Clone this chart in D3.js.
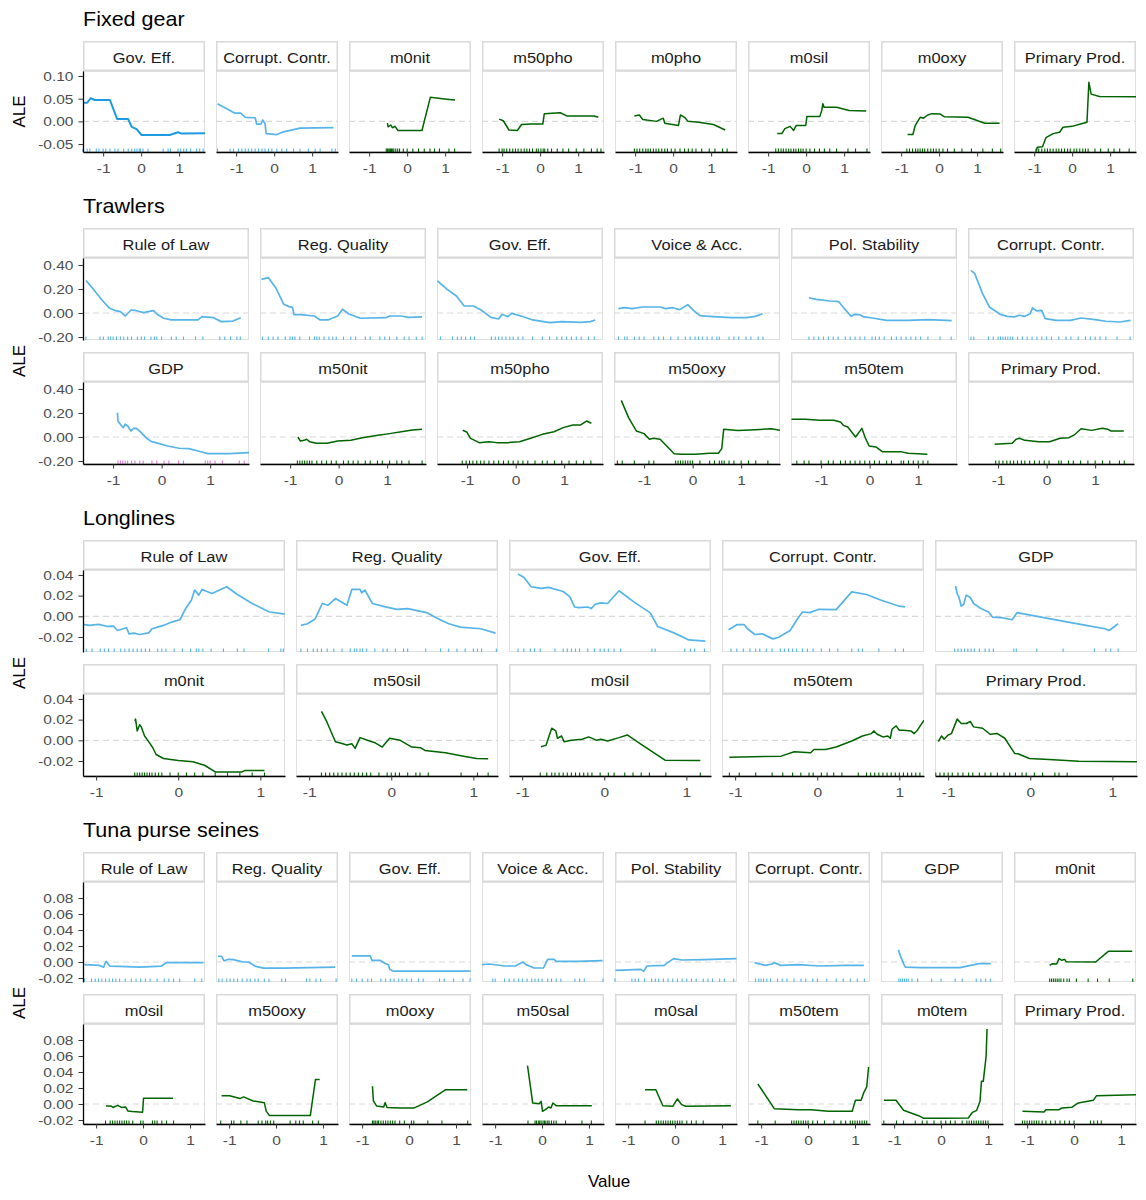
<!DOCTYPE html>
<html>
<head>
<meta charset="utf-8">
<script src="https://cdn.jsdelivr.net/npm/d3@7"></script>
<style>
  body { margin: 0; background: #fff; }
  text { font-family: "Liberation Sans", Arial, sans-serif; }
</style>
</head>
<body>
<svg id="chart" width="1146" height="1200"></svg>
<script>
// ---- Fixed gear ----
var fixedNames = ["Gov. Eff.", "Corrupt. Contr.", "m0nit", "m50pho", "m0pho", "m0sil", "m0oxy", "Primary Prod."];
var fixedTypes = ["gov2", "gov", "env", "env", "env", "env", "env", "env"];
var fixedCurves = [
  [[-1.53,0.041],[-1.42,0.041],[-1.33,0.051],[-1.22,0.047],[-1.09,0.047],[-0.82,0.047],[-0.63,0.005],[-0.34,0.005],[-0.25,-0.012],[-0.12,-0.017],[0.01,-0.03],[0.75,-0.03],[0.97,-0.024],[1.06,-0.027],[1.68,-0.026]],
  [[-1.49,0.039],[-1.25,0.028],[-1.03,0.018],[-0.88,0.018],[-0.76,0.009],[-0.5,0.008],[-0.46,-0.006],[-0.35,-0.006],[-0.3,0.003],[-0.24,-0.005],[-0.21,-0.027],[0.07,-0.029],[0.25,-0.023],[0.68,-0.015],[1.56,-0.014]],
  [[-0.52,-0.004],[-0.5,-0.012],[-0.43,-0.008],[-0.39,-0.014],[-0.32,-0.011],[-0.24,-0.02],[0.39,-0.02],[0.61,0.053],[1.04,0.049],[1.26,0.047]],
  [[-1.08,0.005],[-0.97,0.0014],[-0.82,-0.019],[-0.6,-0.02],[-0.49,-0.007],[-0.24,-0.006],[0.07,-0.006],[0.11,0.017],[0.53,0.019],[0.7,0.012],[1.42,0.012],[1.53,0.009]],
  [[-1.02,0.012],[-0.89,0.014],[-0.8,0.004],[-0.44,0],[-0.26,0.007],[-0.22,-0.004],[0.14,-0.009],[0.19,0.014],[0.3,0.009],[0.39,0],[0.67,-0.002],[1.06,-0.007],[1.37,-0.019]],
  [[-0.76,-0.027],[-0.64,-0.027],[-0.56,-0.016],[-0.42,-0.011],[-0.33,-0.02],[-0.26,-0.009],[-0.01,-0.009],[0.02,0.011],[0.36,0.011],[0.41,0.024],[0.44,0.039],[0.47,0.031],[0.8,0.031],[1.13,0.024],[1.58,0.023]],
  [[-0.83,-0.029],[-0.69,-0.029],[-0.63,-0.009],[-0.58,-0.002],[-0.5,0.009],[-0.41,0.007],[-0.3,0.014],[-0.19,0.017],[0.03,0.016],[0.14,0.01],[0.76,0.009],[1.2,-0.004],[1.59,-0.004]],
  [[-0.94,-0.066],[-0.92,-0.057],[-0.78,-0.056],[-0.69,-0.036],[-0.5,-0.027],[-0.33,-0.024],[-0.24,-0.013],[0,-0.011],[0.22,-0.006],[0.39,-0.002],[0.44,0.086],[0.5,0.06],[0.72,0.055],[1.68,0.054]]
];
var fixedRugs = [
  [-1.53,-1.42,-1.35,-1.18,-1.11,-1.0,-0.93,-0.82,-0.69,-0.61,-0.46,-0.34,-0.25,-0.17,-0.11,-0.05,-0.02,0.05,0.18,0.58,0.71,0.77,0.97,1.04,1.12,1.19,1.3,1.46,1.54,1.63],
  [-1.49,-1.16,-1.07,-0.94,-0.85,-0.76,-0.68,-0.59,-0.5,-0.41,-0.32,-0.24,-0.15,-0.06,0.07,0.2,0.33,0.51,0.68,0.9,1.08,1.21,1.52,1.61],
  [-0.55,-0.52,-0.5,-0.47,-0.44,-0.41,-0.38,-0.35,-0.3,-0.25,-0.2,-0.1,0.0,0.15,0.3,0.45,0.6,0.72,0.85,1.1,1.25],
  [-1.08,-1.0,-0.95,-0.88,-0.8,-0.72,-0.65,-0.58,-0.5,-0.42,-0.35,-0.28,-0.2,-0.1,-0.05,0.02,0.08,0.12,0.2,0.3,0.45,0.6,0.75,0.95,1.15,1.35,1.5,1.6],
  [-1.02,-0.95,-0.88,-0.8,-0.72,-0.66,-0.6,-0.52,-0.45,-0.38,-0.3,-0.22,-0.15,-0.05,0.05,0.18,0.3,0.4,0.5,0.6,0.75,0.95,1.1,1.3,1.42],
  [-0.8,-0.73,-0.66,-0.6,-0.53,-0.46,-0.4,-0.33,-0.27,-0.2,-0.14,-0.08,0.0,0.1,0.22,0.35,0.48,0.62,0.8,1.1,1.3,1.6],
  [-0.85,-0.78,-0.7,-0.62,-0.56,-0.5,-0.44,-0.38,-0.3,-0.22,-0.15,-0.08,0.0,0.1,0.22,0.4,0.6,0.85,1.15,1.4,1.62],
  [-0.95,-0.88,-0.8,-0.72,-0.65,-0.58,-0.5,-0.42,-0.35,-0.28,-0.2,-0.12,-0.05,0.05,0.12,0.2,0.28,0.35,0.42,0.6,0.75,0.95,1.1,1.25,1.5]
];
var fixedYTicks = [-0.05, 0, 0.05, 0.10];

// ---- Trawlers ----
var trawlNames = ["Rule of Law", "Reg. Quality", "Gov. Eff.", "Voice & Acc.", "Pol. Stability", "Corrupt. Contr.",
                  "GDP", "m50nit", "m50pho", "m50oxy", "m50tem", "Primary Prod."];
var trawlTypes = ["gov", "gov", "gov", "gov", "gov", "gov", "gdp", "env", "env", "env", "env", "env"];
var trawlCurves = [
  [[-1.56,0.27],[-1.39,0.19],[-1.23,0.108],[-1.07,0.039],[-0.95,0.019],[-0.85,0.011],[-0.75,-0.025],[-0.63,0.025],[-0.52,0.019],[-0.37,0.003],[-0.28,0.011],[-0.16,0.019],[-0.1,-0.008],[0.04,-0.044],[0.2,-0.058],[0.75,-0.058],[0.83,-0.031],[1.07,-0.039],[1.23,-0.072],[1.47,-0.067],[1.63,-0.039]],
  [[-1.59,0.28],[-1.45,0.295],[-1.29,0.206],[-1.13,0.072],[-1.02,0.053],[-0.95,0.047],[-0.92,-0.014],[-0.78,-0.014],[-0.5,-0.025],[-0.38,-0.058],[-0.22,-0.058],[-0.02,-0.025],[0.08,0.031],[0.21,-0.008],[0.45,-0.044],[0.97,-0.039],[1.05,-0.025],[1.29,-0.025],[1.44,-0.036],[1.72,-0.033]],
  [[-1.61,0.267],[-1.42,0.2],[-1.22,0.142],[-1.06,0.058],[-0.87,0.058],[-0.71,0.025],[-0.51,-0.036],[-0.35,-0.05],[-0.28,-0.011],[-0.16,-0.031],[-0.08,-0.003],[0.16,-0.031],[0.35,-0.058],[0.71,-0.081],[0.94,-0.072],[1.34,-0.078],[1.54,-0.072],[1.64,-0.058]],
  [[-1.53,0.036],[-1.4,0.044],[-1.25,0.036],[-1.03,0.05],[-0.67,0.05],[-0.56,0.036],[-0.41,0.044],[-0.27,0.028],[-0.1,0.069],[0,0.028],[0.15,-0.022],[0.35,-0.028],[0.79,-0.039],[1.11,-0.039],[1.29,-0.028],[1.44,-0.006]],
  [[-1.25,0.127],[-1.1,0.114],[-0.81,0.1],[-0.67,0.097],[-0.63,0.091],[-0.52,0.036],[-0.38,-0.028],[-0.31,-0.011],[-0.2,-0.014],[-0.12,-0.033],[0.06,-0.042],[0.35,-0.061],[0.79,-0.061],[1.22,-0.055],[1.69,-0.064]],
  [[-1.56,0.355],[-1.48,0.327],[-1.32,0.161],[-1.18,0.05],[-0.96,-0.011],[-0.81,-0.028],[-0.67,-0.033],[-0.56,-0.019],[-0.45,-0.028],[-0.34,-0.006],[-0.29,0.042],[-0.2,0.017],[-0.1,0.022],[-0.03,-0.047],[0.2,-0.061],[0.49,-0.061],[0.71,-0.042],[1.0,-0.055],[1.22,-0.069],[1.51,-0.075],[1.73,-0.061]],
  [[-0.91,0.203],[-0.9,0.133],[-0.85,0.106],[-0.79,0.078],[-0.75,0.106],[-0.7,0.092],[-0.63,0.05],[-0.58,0.072],[-0.52,0.072],[-0.42,0.036],[-0.32,-0.006],[-0.21,-0.039],[-0.12,-0.047],[0.12,-0.075],[0.36,-0.094],[0.56,-0.097],[0.75,-0.117],[0.95,-0.139],[1.39,-0.139],[1.8,-0.131]],
  [[-0.84,0],[-0.79,-0.033],[-0.71,-0.028],[-0.66,-0.019],[-0.6,-0.039],[-0.46,-0.053],[-0.24,-0.053],[-0.02,-0.033],[0.25,-0.028],[0.49,-0.006],[0.81,0.014],[1.05,0.028],[1.29,0.044],[1.52,0.058],[1.72,0.064]],
  [[-1.09,0.056],[-1.01,0.042],[-0.93,-0.011],[-0.75,-0.047],[-0.55,-0.039],[-0.39,-0.047],[-0.16,-0.047],[0.08,-0.039],[0.31,-0.011],[0.55,0.022],[0.79,0.044],[0.98,0.078],[1.18,0.1],[1.34,0.1],[1.46,0.133],[1.56,0.114]],
  [[-1.47,0.305],[-1.32,0.161],[-1.16,0.05],[-1.0,0.028],[-0.89,-0.019],[-0.81,-0.011],[-0.67,-0.019],[-0.38,-0.139],[-0.23,-0.144],[0.06,-0.144],[0.35,-0.136],[0.53,-0.136],[0.6,-0.097],[0.64,0.064],[0.93,0.055],[1.29,0.061],[1.62,0.069],[1.8,0.055]],
  [[-1.61,0.147],[-1.32,0.147],[-1.03,0.139],[-0.74,0.139],[-0.6,0.125],[-0.54,0.097],[-0.45,0.083],[-0.29,0],[-0.16,0.072],[-0.09,-0.006],[-0.01,-0.075],[0.13,-0.083],[0.26,-0.122],[0.64,-0.122],[0.79,-0.136],[1.19,-0.144]],
  [[-1.07,-0.061],[-0.71,-0.053],[-0.63,-0.019],[-0.56,-0.011],[-0.45,-0.028],[-0.16,-0.039],[0.06,-0.039],[0.28,-0.011],[0.46,-0.006],[0.57,0.017],[0.71,0.069],[0.93,0.055],[1.15,0.072],[1.26,0.064],[1.33,0.05],[1.59,0.05]]
];
var trawlRugs = [
  [-1.56,-1.27,-1.2,-1.1,-1.05,-1.0,-0.93,-0.85,-0.78,-0.7,-0.62,-0.5,-0.42,-0.35,-0.22,-0.15,-0.1,0.0,0.2,0.3,0.45,0.7,0.85,1.2,1.3,1.42,1.55,1.62],
  [-1.57,-1.45,-1.35,-1.25,-1.1,-1.0,-0.95,-0.9,-0.8,-0.6,-0.5,-0.45,-0.4,-0.3,-0.2,-0.12,-0.05,0.1,0.25,0.35,0.55,0.65,0.85,0.95,1.05,1.2,1.35,1.45,1.6,1.72],
  [-1.55,-1.3,-1.2,-1.12,-1.03,-0.93,-0.85,-0.5,-0.42,-0.35,-0.28,-0.2,-0.12,-0.05,0.05,0.15,0.35,0.55,0.7,0.85,0.95,1.05,1.15,1.25,1.35,1.5,1.62],
  [-1.53,-1.4,-1.35,-1.2,-1.1,-1.0,-0.8,-0.7,-0.6,-0.45,-0.3,-0.15,-0.05,0.05,0.12,0.2,0.3,0.4,0.5,0.55,0.75,0.85,0.95,1.1,1.2,1.35,1.45],
  [-1.25,-1.15,-1.05,-0.95,-0.85,-0.75,-0.65,-0.5,-0.4,-0.3,-0.2,-0.1,0.05,0.12,0.2,0.3,0.45,0.55,0.65,0.75,0.85,0.95,1.05,1.2,1.45,1.68],
  [-1.56,-1.5,-1.2,-1.1,-1.0,-0.95,-0.9,-0.85,-0.8,-0.75,-0.7,-0.6,-0.5,-0.4,-0.3,-0.2,-0.1,0.0,0.1,0.25,0.4,0.5,0.65,0.8,0.9,1.0,1.1,1.22,1.45,1.72],
  [-0.9,-0.85,-0.8,-0.75,-0.7,-0.62,-0.55,-0.45,-0.38,-0.2,-0.1,0.05,0.15,0.35,0.45,0.9,0.95,1.0,1.1,1.25,1.6,1.7],
  [-0.85,-0.8,-0.75,-0.7,-0.65,-0.6,-0.55,-0.45,-0.35,-0.25,-0.15,-0.05,0.1,0.2,0.3,0.4,0.55,0.65,0.8,0.9,1.05,1.2,1.3,1.45,1.72],
  [-1.1,-1.02,-0.95,-0.88,-0.8,-0.72,-0.65,-0.55,-0.45,-0.35,-0.25,-0.15,-0.05,0.05,0.15,0.25,0.4,0.55,0.65,0.8,0.95,1.1,1.25,1.4,1.55],
  [-1.55,-1.45,-1.2,-0.9,-0.8,-0.35,-0.3,-0.25,-0.2,-0.15,-0.1,-0.05,0.0,0.15,0.35,0.45,0.55,0.6,0.65,0.75,0.85,1.0,1.15,1.3,1.55],
  [-1.5,-1.35,-1.25,-1.0,-0.85,-0.75,-0.6,-0.5,-0.4,-0.3,-0.2,-0.1,0.0,0.1,0.2,0.35,0.45,0.65,0.7,0.8,0.9,1.0,1.1,1.2],
  [-1.05,-0.98,-0.9,-0.82,-0.75,-0.68,-0.6,-0.52,-0.45,-0.35,-0.25,-0.15,-0.05,0.05,0.25,0.3,0.45,0.55,0.7,0.85,1.0,1.15,1.3,1.5,1.6]
];
var trawlYTicks = [-0.2, 0, 0.2, 0.4];

// ---- Longlines ----
var longNames = ["Rule of Law", "Reg. Quality", "Gov. Eff.", "Corrupt. Contr.", "GDP",
                 "m0nit", "m50sil", "m0sil", "m50tem", "Primary Prod."];
var longTypes = ["gov", "gov", "gov", "gov", "gov", "env", "env", "env", "env", "env"];
var longCurves = [
  [[-1.16,-0.0078],[-1.08,-0.0088],[-0.97,-0.0078],[-0.86,-0.0098],[-0.79,-0.0094],[-0.74,-0.0137],[-0.63,-0.011],[-0.6,-0.0169],[-0.54,-0.0163],[-0.47,-0.0176],[-0.36,-0.016],[-0.32,-0.012],[-0.25,-0.0104],[-0.18,-0.0088],[-0.11,-0.0065],[-0.05,-0.0049],[0.02,-0.0033],[0.09,0.0075],[0.16,0.0156],[0.2,0.0254],[0.25,0.0205],[0.29,0.026],[0.41,0.022],[0.59,0.0286],[0.72,0.0211],[0.9,0.0124],[1.11,0.0042],[1.26,0.0026],[1.3,0.002]],
  [[-1.1,-0.0088],[-1.02,-0.0072],[-0.93,-0.0029],[-0.84,0.0124],[-0.77,0.0107],[-0.68,0.0172],[-0.54,0.0107],[-0.48,0.026],[-0.38,0.026],[-0.36,0.0228],[-0.32,0.0254],[-0.23,0.0124],[-0.07,0.0091],[0.07,0.0068],[0.2,0.0075],[0.43,0.0036],[0.57,-0.0023],[0.7,-0.0072],[0.84,-0.0104],[1.09,-0.012],[1.27,-0.0163]],
  [[-1.05,0.041],[-0.98,0.0378],[-0.89,0.0286],[-0.84,0.028],[-0.77,0.027],[-0.68,0.028],[-0.5,0.024],[-0.42,0.019],[-0.36,0.009],[-0.31,0.0085],[-0.2,0.009],[-0.16,0.0075],[-0.11,0.0117],[-0.04,0.013],[0.04,0.0124],[0.18,0.0247],[0.36,0.014],[0.56,0.0033],[0.65,-0.0098],[0.85,-0.016],[1.03,-0.0228],[1.23,-0.024]],
  [[-1.08,-0.013],[-0.98,-0.0081],[-0.89,-0.0081],[-0.85,-0.012],[-0.76,-0.0176],[-0.67,-0.0169],[-0.54,-0.0218],[-0.47,-0.0202],[-0.33,-0.0137],[-0.24,-0.0023],[-0.18,0.0042],[-0.09,0.0036],[0.02,0.0068],[0.23,0.0065],[0.42,0.0237],[0.6,0.0211],[0.78,0.0156],[1.0,0.0098],[1.07,0.0091]],
  [[-0.91,0.0293],[-0.89,0.022],[-0.87,0.0189],[-0.84,0.0098],[-0.81,0.0117],[-0.78,0.0205],[-0.73,0.0182],[-0.69,0.0124],[-0.64,0.0098],[-0.6,0.0075],[-0.51,0.0042],[-0.46,-0.0007],[-0.35,-0.0013],[-0.22,-0.0033],[-0.16,0.0036],[0.23,-0.0023],[0.68,-0.0088],[0.91,-0.012],[0.96,-0.0137],[1.07,-0.0072]],
  [[-0.53,0.0189],[-0.52,0.0205],[-0.5,0.0091],[-0.47,0.015],[-0.45,0.013],[-0.41,0.0042],[-0.36,-0.0013],[-0.31,-0.0072],[-0.27,-0.0137],[-0.18,-0.0176],[0,-0.0195],[0.18,-0.0208],[0.32,-0.0241],[0.45,-0.0306],[0.77,-0.0306],[0.81,-0.0293],[1.05,-0.0293]],
  [[-0.85,0.028],[-0.79,0.0189],[-0.72,0.0059],[-0.68,-0.0013],[-0.61,-0.0029],[-0.54,-0.0046],[-0.48,-0.0033],[-0.44,-0.0078],[-0.38,0.0026],[-0.29,0],[-0.2,-0.0023],[-0.11,-0.0065],[-0.02,0.002],[0.11,0],[0.25,-0.0065],[0.36,-0.0072],[0.41,-0.0098],[0.66,-0.012],[0.88,-0.0153],[1.04,-0.0176],[1.18,-0.0179]],
  [[-0.77,-0.0062],[-0.71,-0.0049],[-0.64,0.0117],[-0.59,0.0091],[-0.57,0.002],[-0.52,0.0042],[-0.49,-0.0013],[-0.4,0],[-0.27,0.001],[-0.19,0.0033],[-0.09,0],[-0.04,0.001],[0.04,-0.0007],[0.18,0.0026],[0.28,0.0052],[0.45,-0.0039],[0.74,-0.0192],[1.17,-0.0195]],
  [[-1.07,-0.0163],[-0.44,-0.0153],[-0.28,-0.0111],[-0.08,-0.012],[-0.04,-0.0088],[0.1,-0.0088],[0.23,-0.0065],[0.42,-0.0007],[0.55,0.0042],[0.66,0.0065],[0.69,0.0091],[0.73,0.0059],[0.8,0.0033],[0.86,0.0042],[0.89,0.002],[0.91,0.0107],[0.96,0.014],[1.0,0.0098],[1.05,0.0098],[1.14,0.0091],[1.18,0.0065],[1.22,0.0098],[1.3,0.0195]],
  [[-1.12,-0.0013],[-1.08,0.0042],[-1.05,0.001],[-1.0,0.0052],[-0.96,0.0065],[-0.89,0.0205],[-0.84,0.0163],[-0.78,0.0163],[-0.73,0.0182],[-0.69,0.013],[-0.58,0.0117],[-0.49,0.0059],[-0.4,0.0065],[-0.31,0.002],[-0.19,-0.0127],[-0.15,-0.013],[-0.01,-0.0176],[0.23,-0.0185],[0.59,-0.0202],[1.3,-0.0208]]
];
var longRugs = [
  [-1.12,-1.05,-0.95,-0.9,-0.85,-0.78,-0.7,-0.65,-0.6,-0.55,-0.5,-0.45,-0.4,-0.35,-0.25,-0.2,-0.15,-0.05,0.05,0.15,0.22,0.25,0.3,0.4,0.55,0.72,0.8,1.1,1.25,1.28],
  [-1.1,-1.02,-0.95,-0.9,-0.85,-0.78,-0.7,-0.6,-0.5,-0.45,-0.42,-0.38,-0.35,-0.3,-0.2,-0.1,-0.05,0.05,0.15,0.2,0.42,0.6,0.7,0.8,0.9,1.0,1.05,1.1,1.28],
  [-1.05,-0.98,-0.9,-0.85,-0.78,-0.6,-0.5,-0.45,-0.4,-0.35,-0.3,-0.2,-0.12,-0.05,0.0,0.05,0.12,0.2,0.58,0.62,0.98,1.05,1.1,1.22],
  [-1.05,-0.98,-0.9,-0.82,-0.75,-0.7,-0.62,-0.55,-0.45,-0.4,-0.35,-0.3,-0.25,-0.18,-0.12,-0.05,0.05,0.15,0.25,0.42,0.5,0.55,0.75,0.95,1.05],
  [-0.92,-0.88,-0.84,-0.8,-0.76,-0.72,-0.68,-0.62,-0.55,-0.5,-0.45,-0.2,-0.17,0.08,0.4,0.78,0.92,0.98,1.07],
  [-0.53,-0.5,-0.47,-0.44,-0.41,-0.38,-0.35,-0.32,-0.28,-0.24,-0.2,-0.1,0.0,0.1,0.2,0.3,0.45,0.6,0.75,0.9,1.05],
  [-0.85,-0.8,-0.75,-0.7,-0.65,-0.6,-0.55,-0.5,-0.45,-0.4,-0.35,-0.3,-0.25,-0.15,-0.05,0.0,0.05,0.1,0.2,0.3,0.35,0.45,0.85,1.05,1.18],
  [-0.78,-0.7,-0.64,-0.6,-0.55,-0.5,-0.45,-0.4,-0.35,-0.3,-0.25,-0.2,-0.15,-0.05,0.05,0.12,0.25,0.35,0.45,0.55,0.75,1.17],
  [-1.07,-0.95,-0.75,-0.55,-0.42,-0.3,-0.2,-0.1,-0.05,0.05,0.12,0.2,0.3,0.5,0.6,0.65,0.7,0.75,0.8,0.85,0.9,0.95,1.0,1.05,1.1,1.15,1.2,1.25],
  [-1.15,-1.1,-1.05,-1.0,-0.95,-0.88,-0.82,-0.75,-0.7,-0.62,-0.55,-0.48,-0.4,-0.32,-0.25,-0.18,-0.1,-0.05,0.05,0.15,0.3,0.35,0.45]
];
var longYTicks = [-0.02, 0, 0.02, 0.04];

// ---- Tuna purse seines ----
var tunaNames = ["Rule of Law", "Reg. Quality", "Gov. Eff.", "Voice & Acc.", "Pol. Stability", "Corrupt. Contr.", "GDP", "m0nit",
                 "m0sil", "m50oxy", "m0oxy", "m50sal", "m0sal", "m50tem", "m0tem", "Primary Prod."];
var tunaTypes = ["gov", "gov", "gov", "gov", "gov", "gov", "gov", "env", "env", "env", "env", "env", "env", "env", "env", "env"];
var tunaCurves = [
  [[-1.25,-0.0034],[-0.93,-0.0043],[-0.84,-0.0064],[-0.79,0.0009],[-0.71,-0.0051],[-0.5,-0.0055],[-0.07,-0.0064],[0.39,-0.0051],[0.5,-0.0009],[0.79,-0.0009],[1.29,-0.0009]],
  [[-1.24,0.0072],[-1.16,0.0072],[-1.11,0.0013],[-1.02,0.0034],[-0.91,0.003],[-0.7,0],[-0.59,0],[-0.45,-0.0051],[-0.27,-0.0077],[0.16,-0.0077],[1.26,-0.0064]],
  [[-1.22,0.0077],[-0.83,0.0077],[-0.79,0.0021],[-0.61,0.0021],[-0.54,-0.0009],[-0.44,-0.0034],[-0.41,-0.0094],[-0.33,-0.0115],[0.53,-0.0115],[1.31,-0.0115]],
  [[-1.28,-0.0033],[-1.12,-0.0025],[-0.8,-0.005],[-0.57,-0.005],[-0.41,0],[-0.34,-0.0033],[-0.17,-0.0075],[0.03,-0.0075],[0.12,0.0033],[0.26,0.0033],[0.3,0.0008],[0.76,0.0008],[1.29,0.0017]],
  [[-1.27,-0.0104],[-0.73,-0.0092],[-0.67,-0.0117],[-0.6,-0.005],[-0.23,-0.0042],[-0.16,-0.0008],[-0.03,0.0042],[0.14,0.0025],[0.6,0.0029],[1.31,0.0042]],
  [[-1.14,-0.0008],[-0.91,-0.0042],[-0.77,-0.0025],[-0.72,-0.0008],[-0.58,-0.0042],[-0.21,-0.0033],[0.25,-0.005],[0.81,-0.0042],[1.19,-0.0042]],
  [[-0.91,0.0154],[-0.87,0.0083],[-0.8,-0.0021],[-0.76,-0.0063],[-0.43,-0.0071],[0.4,-0.0071],[0.63,-0.0042],[0.81,-0.0021],[1.06,-0.0021]],
  [[-0.52,-0.0042],[-0.46,-0.0021],[-0.37,-0.0025],[-0.32,0.0042],[-0.26,0.0021],[-0.2,0.0033],[-0.17,0.0004],[0.46,0],[0.73,0.0133],[1.24,0.0133]],
  [[-0.79,-0.0026],[-0.68,-0.0026],[-0.64,-0.0043],[-0.54,-0.0017],[-0.46,-0.0043],[-0.37,-0.0038],[-0.32,-0.0089],[-0.23,-0.0094],[-0.01,-0.0102],[0.01,0.0072],[0.64,0.0072]],
  [[-1.16,0.0102],[-0.99,0.0102],[-0.77,0.0068],[-0.69,0.0089],[-0.49,0.0038],[-0.25,0.0017],[-0.21,-0.0089],[-0.14,-0.0145],[0.73,-0.0145],[0.84,0.0307],[0.93,0.0307]],
  [[-0.78,0.0222],[-0.76,0.0038],[-0.69,-0.0026],[-0.54,-0.0038],[-0.51,0.0017],[-0.47,-0.0043],[-0.19,-0.0051],[0.1,-0.0051],[0.39,0.0026],[0.78,0.0179],[1.24,0.0179]],
  [[-0.31,0.048],[-0.2,0.0013],[-0.06,0.0004],[-0.02,0.0033],[0.01,-0.0092],[0.07,-0.0071],[0.14,-0.0038],[0.19,-0.005],[0.23,0.0013],[0.3,-0.0021],[1.06,-0.0021]],
  [[-0.64,0.0179],[-0.41,0.0179],[-0.26,-0.0021],[-0.05,-0.0029],[0.05,0.0063],[0.14,-0.0008],[0.23,-0.0029],[1.19,-0.0021]],
  [[-1.07,0.025],[-0.72,-0.0058],[-0.21,-0.0071],[0.06,-0.0071],[0.44,-0.0092],[0.94,-0.0092],[1.01,0.0046],[1.13,0.0046],[1.19,0.0146],[1.25,0.0213],[1.29,0.0463]],
  [[-1.22,0.0046],[-0.96,0.0046],[-0.8,-0.0079],[-0.48,-0.0146],[-0.37,-0.0179],[0.07,-0.0179],[0.58,-0.0175],[0.67,-0.0104],[0.76,-0.0079],[0.83,0.0033],[0.86,0.0283],[0.9,0.0283],[0.96,0.0596],[0.98,0.0938]],
  [[-1.1,-0.0092],[-0.64,-0.01],[-0.6,-0.0071],[-0.32,-0.0071],[-0.26,-0.005],[-0.05,-0.0042],[0.09,0.0013],[0.41,0.0046],[0.48,0.0104],[1.32,0.0117]]
];
var tunaRugs = [
  [-1.25,-1.1,-1.02,-0.95,-0.88,-0.8,-0.72,-0.65,-0.58,-0.5,-0.38,-0.25,-0.15,-0.05,0.05,0.15,0.3,0.45,0.55,0.65,0.78,1.1,1.25],
  [-1.22,-1.15,-1.05,-0.98,-0.9,-0.82,-0.72,-0.62,-0.55,-0.45,-0.38,-0.25,-0.15,0.12,0.2,0.65,0.72,0.85,0.95,1.28],
  [-1.22,-1.12,-1.0,-0.88,-0.8,-0.6,-0.5,-0.4,-0.32,-0.22,-0.15,-0.05,0.05,0.2,0.3,0.65,0.75,0.95,1.15,1.3],
  [-1.05,-1.0,-0.8,-0.7,-0.6,-0.5,-0.42,-0.32,-0.22,-0.15,-0.08,0.0,0.12,0.2,0.3,0.4,0.7,0.8,0.9,1.3],
  [-1.28,-0.92,-0.85,-0.78,-0.65,-0.5,-0.42,-0.35,-0.25,-0.15,-0.05,0.05,0.15,0.25,0.35,0.45,0.6,0.7,0.8,0.95,1.05,1.25],
  [-1.12,-1.05,-1.0,-0.95,-0.88,-0.8,-0.65,-0.55,-0.45,-0.3,-0.15,-0.05,0.1,0.2,0.4,0.6,0.75,0.9,1.05,1.2],
  [-0.9,-0.86,-0.82,-0.78,-0.74,-0.7,-0.62,-0.5,-0.2,0.0,0.3,0.45,0.75,0.85,0.95,1.05],
  [-0.52,-0.48,-0.44,-0.4,-0.36,-0.32,-0.28,-0.22,-0.15,-0.1,0.05,0.3,0.5,0.75,1.25],
  [-0.8,-0.7,-0.65,-0.6,-0.55,-0.5,-0.45,-0.4,-0.35,-0.3,-0.22,-0.05,0.0,0.2,0.25,0.3,0.4,0.5,0.65],
  [-1.18,-0.95,-0.9,-0.75,-0.62,-0.38,-0.3,-0.22,-0.18,-0.12,-0.05,0.3,0.42,0.5,0.58,0.78,0.9],
  [-0.78,-0.75,-0.72,-0.68,-0.65,-0.6,-0.55,-0.5,-0.45,-0.4,-0.35,-0.3,-0.2,-0.1,0.05,0.1,0.4,0.7,1.25],
  [-0.3,-0.15,-0.12,-0.08,-0.05,-0.02,0.02,0.05,0.08,0.12,0.15,0.2,0.25,0.3,0.5,0.85,1.05],
  [-0.64,-0.4,-0.35,-0.3,-0.25,-0.2,-0.15,-0.1,-0.05,0.0,0.05,0.1,0.15,0.25,0.35,0.45,0.6],
  [-1.07,-0.7,-0.35,-0.3,-0.25,-0.2,-0.15,-0.1,-0.05,0.0,0.1,0.2,0.35,0.55,0.7,0.8,0.9,0.95,1.0,1.05,1.1,1.15,1.2,1.25],
  [-1.22,-0.95,-0.8,-0.55,-0.4,-0.3,-0.15,0.0,0.1,0.2,0.3,0.45,0.55,0.6,0.65,0.7,0.75,0.8,0.85,0.9,0.95,1.0],
  [-1.1,-1.05,-1.0,-0.95,-0.9,-0.85,-0.8,-0.75,-0.68,-0.6,-0.5,-0.4,-0.3,-0.2,-0.1,0.0,0.35,0.42,0.5,0.58]
];
var tunaYTicks = [-0.02, 0, 0.02, 0.04, 0.06, 0.08];

var xTicks = [-1, 0, 1];

// line and rug colours by variable group
var lineColors = { gov: "#56B4E9", gov2: "#1D9BE2", gdp: "#56B4E9", env: "#006400" };
var rugColors = { gov: "#56B4E9", gov2: "#56B4E9", gdp: "#D97BD6", env: "#006400" };

// layout of the four blocks
var sections = [
  { title: "Fixed gear", titleY: 26, names: fixedNames, types: fixedTypes, curves: fixedCurves, rugs: fixedRugs,
    yTicks: fixedYTicks, xDomain: [-1.53, 1.68], yDomain: [-0.0675, 0.111],
    cols: 8, w: 122, rowTops: [41], ph: 81 },
  { title: "Trawlers", titleY: 213, names: trawlNames, types: trawlTypes, curves: trawlCurves, rugs: trawlRugs,
    yTicks: trawlYTicks, xDomain: [-1.62, 1.8], yDomain: [-0.225, 0.458],
    cols: 6, w: 166, rowTops: [228, 352], ph: 82 },
  { title: "Longlines", titleY: 525, names: longNames, types: longTypes, curves: longCurves, rugs: longRugs,
    yTicks: longYTicks, xDomain: [-1.16, 1.3], yDomain: [-0.0345, 0.0448],
    cols: 5, w: 202, rowTops: [540, 664], ph: 82 },
  { title: "Tuna purse seines", titleY: 837, names: tunaNames, types: tunaTypes, curves: tunaCurves, rugs: tunaRugs,
    yTicks: tunaYTicks, xDomain: [-1.28, 1.32], yDomain: [-0.025, 0.1],
    cols: 8, w: 122, rowTops: [852, 994], ph: 100 }
];

var left = 83, gap = 11, stripH = 30;
var svg = d3.select("#chart");
var defs = svg.append("defs");
var clipId = 0;

// the reference glyphs run wider than Liberation Sans at the same height:
// stretch each text horizontally about its own x anchor
function widen(sel, k) {
  sel.each(function () {
    var ax = parseFloat(d3.select(this).attr("x")) || 0;
    d3.select(this).attr("transform",
      "translate(" + ax + ",0) scale(" + k + ",1) translate(" + (-ax) + ",0)");
  });
}

sections.forEach(function (s) {
  svg.append("text")
    .attr("x", left)
    .attr("y", s.titleY)
    .style("font-size", "20.5px")
    .style("fill", "#000")
    .text(s.title)
    .call(widen, 1.05);

  var nRows = s.rowTops.length;
  var x = d3.scaleLinear().domain(s.xDomain).range([0, s.w]);
  var y = d3.scaleLinear().domain(s.yDomain).range([s.ph, 0]);

  s.names.forEach(function (name, i) {
    var row = Math.floor(i / s.cols), col = i % s.cols;
    var x0 = left + col * (s.w + gap);
    var stripTop = s.rowTops[row];
    var pTop = stripTop + stripH;

    // strip
    svg.append("rect")
      .attr("x", x0 + 0.75).attr("y", stripTop + 0.75)
      .attr("width", s.w - 1.5).attr("height", stripH - 1.5)
      .style("fill", "#fff").style("stroke", "#d9d9d9").style("stroke-width", 1.5);
    svg.append("text")
      .attr("x", x0 + s.w / 2).attr("y", stripTop + stripH / 2 + 1)
      .attr("dy", "0.36em")
      .attr("text-anchor", "middle")
      .style("font-size", "15.5px").style("fill", "#1a1a1a")
      .text(name)
      .call(widen, 1.06);

    var g = svg.append("g").attr("transform", "translate(" + x0 + "," + pTop + ")");

    g.append("rect")
      .attr("x", 0.5).attr("y", 0.5).attr("width", s.w - 1).attr("height", s.ph - 1)
      .style("fill", "none").style("stroke", "#e0e0e0").style("stroke-width", 1);

    // zero reference
    g.append("line")
      .attr("x1", 0).attr("x2", s.w)
      .attr("y1", y(0)).attr("y2", y(0))
      .style("stroke", "#d9d9d9").style("stroke-width", 1.2)
      .style("stroke-dasharray", "6,4");

    // rug
    g.selectAll(".rug")
      .data(s.rugs[i])
      .enter().append("line")
      .attr("class", "rug")
      .attr("x1", d => x(d)).attr("x2", d => x(d))
      .attr("y1", s.ph).attr("y2", s.ph - 3.5)
      .style("stroke", rugColors[s.types[i]]).style("stroke-width", 1.1);

    // ALE curve
    var cid = "clip" + (clipId++);
    defs.append("clipPath").attr("id", cid)
      .append("rect").attr("x", 0).attr("y", 0).attr("width", s.w).attr("height", s.ph);
    var line = d3.line().x(d => x(d[0])).y(d => y(d[1]));
    g.append("path")
      .datum(s.curves[i])
      .attr("clip-path", "url(#" + cid + ")")
      .attr("d", line)
      .style("fill", "none")
      .style("stroke", lineColors[s.types[i]])
      .style("stroke-width", s.types[i] === "env" ? 1.5 : (s.types[i] === "gov2" ? 2 : 1.7))
      .style("stroke-linejoin", "round");

    // axes
    if (col === 0) {
      var ya = g.append("g").call(
        d3.axisLeft(y).tickValues(s.yTicks).tickFormat(d => d.toFixed(2)).tickSize(4.5).tickSizeOuter(0).tickPadding(5));
      ya.select(".domain").style("stroke", "#000").style("stroke-width", 1.3);
      ya.selectAll(".tick line").style("stroke", "#333").style("stroke-width", 1);
      ya.selectAll(".tick text").style("font-size", "13.5px").style("fill", "#4d4d4d")
        .style("font-family", "'Liberation Sans', Arial, sans-serif")
        .call(widen, 1.15);
    }
    if (row === nRows - 1) {
      var xa = g.append("g").attr("transform", "translate(0," + s.ph + ")").call(
        d3.axisBottom(x).tickValues(xTicks).tickFormat(d => d < 0 ? "-" + Math.abs(d) : String(d))
          .tickSize(4.5).tickSizeOuter(0).tickPadding(6.5));
      xa.select(".domain").style("stroke", "#000").style("stroke-width", 1.3);
      xa.selectAll(".tick line").style("stroke", "#333").style("stroke-width", 1);
      xa.selectAll(".tick text").style("font-size", "13.5px").style("fill", "#4d4d4d")
        .style("font-family", "'Liberation Sans', Arial, sans-serif")
        .call(widen, 1.15);
    }
  });

  // ALE label centred on the block's panels
  var top = s.rowTops[0] + stripH;
  var bottom = s.rowTops[nRows - 1] + stripH + s.ph;
  var cy = (top + bottom) / 2;
  svg.append("text")
    .attr("transform", "translate(25," + cy + ") rotate(-90)")
    .attr("text-anchor", "middle")
    .style("font-size", "17px").style("fill", "#000")
    .text("ALE");
});

svg.append("text")
  .attr("x", 609).attr("y", 1187)
  .attr("text-anchor", "middle")
  .style("font-size", "17px").style("fill", "#000")
  .text("Value");
</script>
</body>
</html>
